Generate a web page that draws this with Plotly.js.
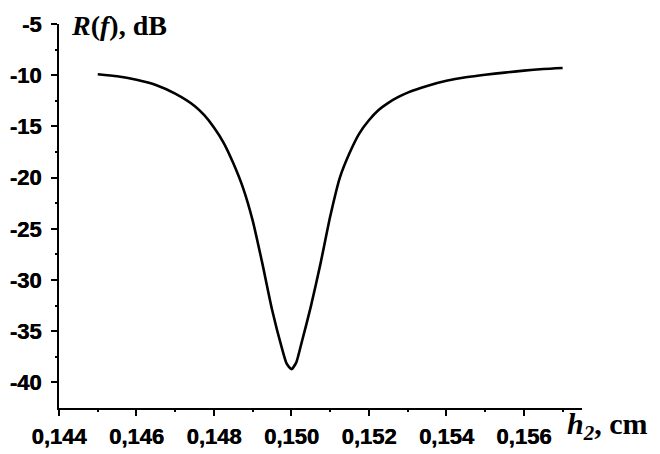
<!DOCTYPE html>
<html>
<head>
<meta charset="utf-8">
<script src="https://cdn.plot.ly/plotly-3.0.1.min.js"></script>
<style>html,body{margin:0;padding:0;background:#fff;}#chart{width:660px;height:454px;}</style>
</head>
<body>
<div id="chart"></div>
<script>
// h2, cm
const h2 = [0.145, 0.1455, 0.146, 0.1465, 0.147, 0.1475, 0.14775, 0.148, 0.14825, 0.1485, 0.14875,
  0.149, 0.14925, 0.1495, 0.14975, 0.14988, 0.15, 0.15012, 0.15025, 0.1505, 0.15075, 0.151,
  0.15125, 0.1515, 0.15175, 0.152, 0.15225, 0.1525, 0.15275, 0.153, 0.1535, 0.154, 0.1545, 0.155, 0.1555,
  0.156, 0.1565, 0.157];
// R(f), dB
const R = [-9.9, -10.1, -10.45, -10.95, -11.8, -13.0, -13.9, -15.1, -16.6, -18.6, -21.0,
  -24.2, -28.4, -32.9, -36.6, -38.2, -38.7, -38.1, -36.3, -32.6, -28.4, -23.8,
  -20.0, -17.6, -15.7, -14.4, -13.4, -12.7, -12.15, -11.7, -11.05, -10.55, -10.2, -9.95, -9.75,
  -9.55, -9.4, -9.3];

const xTickVals = [0.144, 0.146, 0.148, 0.150, 0.152, 0.154, 0.156];
const xTickText = ["0,144", "0,146", "0,148", "0,150", "0,152", "0,154", "0,156"];
const xMinorVals = [0.145, 0.147, 0.149, 0.151, 0.153, 0.155, 0.157];
const yTickVals = [-40, -35, -30, -25, -20, -15, -10, -5];
const yTickText = ["-40", "-35", "-30", "-25", "-20", "-15", "-10", "-5"];
const yMinorVals = [-37.5, -32.5, -27.5, -22.5, -17.5, -12.5, -7.5];

const xRange = [0.144, 0.1575];
const yRange = [-42.5, -5];

const bold = t => "<b>" + t + "</b>";

const trace = {
  x: h2, y: R, type: "scatter", mode: "lines",
  line: {color: "#000", width: 2.6, shape: "spline", smoothing: 0.6},
  hoverinfo: "skip"
};
// carrier for the minor-tick overlay axes (invisible)
const minorCarrier = {
  x: h2, y: R, type: "scatter", mode: "lines", xaxis: "x2", yaxis: "y2",
  line: {color: "rgba(0,0,0,0)", width: 0}, hoverinfo: "skip"
};

const layout = {
  width: 660, height: 454,
  margin: {l: 59, r: 78, t: 24, b: 46},
  paper_bgcolor: "#fff", plot_bgcolor: "rgba(0,0,0,0)",
  showlegend: false,
  font: {family: "Arial", size: 22, color: "#000", weight: "bold"},
  xaxis: {
    range: xRange,
    tickmode: "array", tickvals: xTickVals, ticktext: xTickText.map(bold),
    ticks: "outside", ticklen: 6, tickwidth: 2, tickcolor: "#000",
    showline: true, linecolor: "#000", linewidth: 2,
    showgrid: false, zeroline: false,
    tickfont: {family: "Arial", size: 22, color: "#000", weight: "bold", shadow: "0.5px 0 0 #000"},
    ticklabelstandoff: 2
  },
  yaxis: {
    range: yRange,
    tickmode: "array", tickvals: yTickVals, ticktext: yTickText.map(bold),
    ticks: "outside", ticklen: 6, tickwidth: 2, tickcolor: "#000",
    showline: true, linecolor: "#000", linewidth: 2,
    showgrid: false, zeroline: false,
    tickfont: {family: "Arial", size: 22, color: "#000", weight: "bold", shadow: "0.5px 0 0 #000"},
    ticklabelstandoff: 5
  },
  xaxis2: {
    overlaying: "x", anchor: "y2", side: "bottom", range: xRange,
    tickmode: "array", tickvals: xMinorVals, showticklabels: false,
    ticks: "outside", ticklen: 3, tickwidth: 2, tickcolor: "#000",
    showline: false, showgrid: false, zeroline: false
  },
  yaxis2: {
    overlaying: "y", anchor: "x2", side: "left", range: yRange,
    tickmode: "array", tickvals: yMinorVals, showticklabels: false,
    ticks: "outside", ticklen: 3, tickwidth: 2, tickcolor: "#000",
    showline: false, showgrid: false, zeroline: false
  },
  annotations: [
    {
      xref: "paper", yref: "paper", x: 0.02, y: 0.997, xanchor: "left", yanchor: "middle",
      text: "<b><i>R</i>(<i>f</i>), dB</b>", showarrow: false,
      font: {family: "Liberation Serif", size: 28, color: "#000"}
    },
    {
      xref: "paper", yref: "paper", x: 0.967, y: -0.047, xanchor: "left", yanchor: "middle",
      text: "<b><i>h</i><sub><i>2</i></sub>, cm</b>", showarrow: false,
      font: {family: "Liberation Serif", size: 30, color: "#000"}
    }
  ]
};

Plotly.newPlot("chart", [minorCarrier, trace], layout, {displayModeBar: false, staticPlot: true});
</script>
</body>
</html>
